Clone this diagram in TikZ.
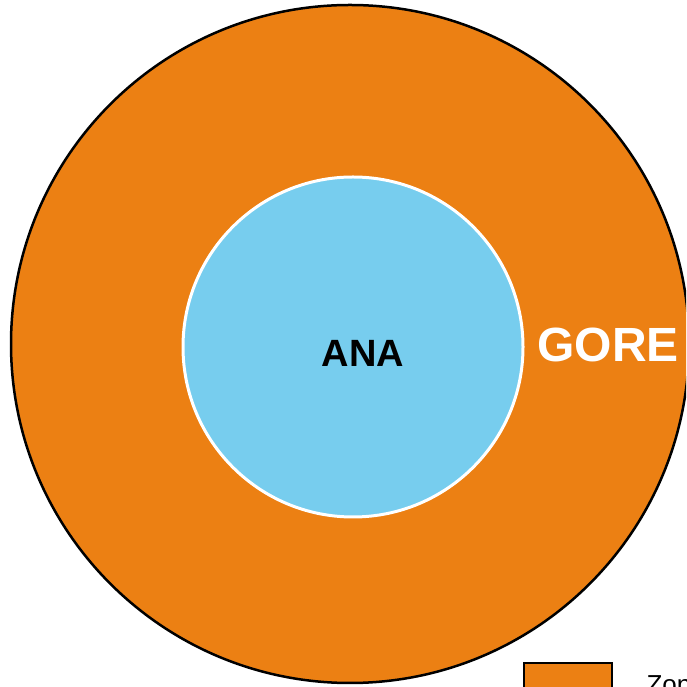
\documentclass[tikz,border=0pt]{standalone}
\usepackage{fontspec}
\setmainfont{Liberation Sans}
\definecolor{gorecol}{HTML}{EC8013}
\definecolor{anacol}{HTML}{77CDEE}

\begin{document}
\begin{tikzpicture}[x=1pt,y=1pt]
\tikzstyle{every node}=[font=\bfseries];
\useasboundingbox (0,0) rectangle (686,687);
\clip (0,0) rectangle (686,687);
\node (G) [circle,draw=black,line width=2.5pt,fill=gorecol,minimum size=678pt] at (350,343) {};
\node (A) [circle,draw=white,line width=3pt,fill=anacol,minimum size=340pt] at (353,340) {};
\node (AL) at (363,334) {\fontsize{38}{40}\selectfont ANA};
\node (GL) [text=white] at (608,342) {\fontsize{48}{50}\selectfont GORE};
\node (K) [draw=black,line width=2.5pt,fill=gorecol,minimum width=88pt,minimum height=40pt] at (568,4) {};
\node (KL) [anchor=base west,font=\normalfont] at (643,-6) {\fontsize{26}{28}\selectfont Zone};
\end{tikzpicture}
\end{document}
